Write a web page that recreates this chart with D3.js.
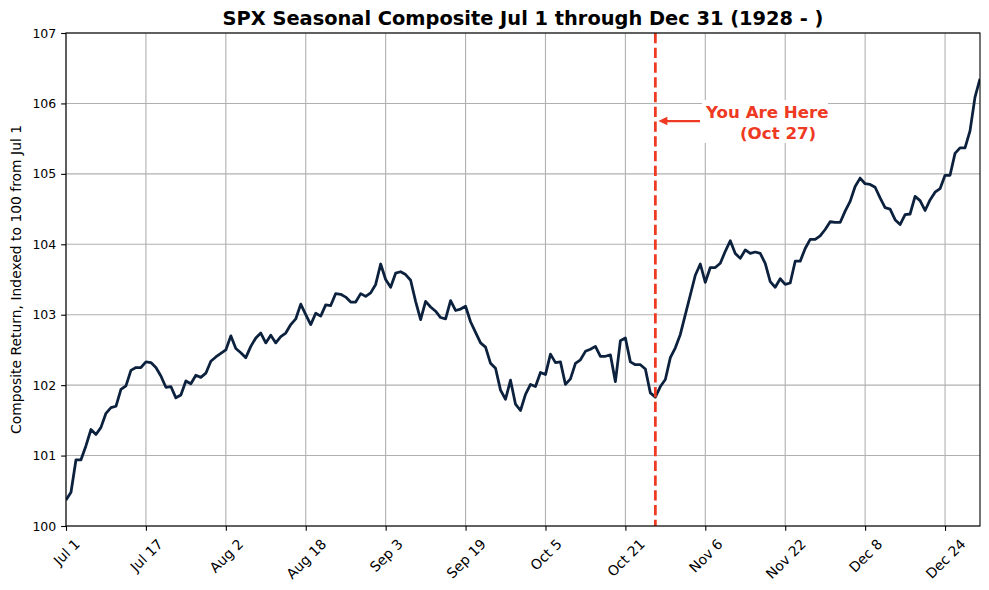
<!DOCTYPE html>
<html>
<head>
<meta charset="utf-8">
<script src="https://cdn.jsdelivr.net/npm/d3@7"></script>
<style>
  html, body { margin: 0; padding: 0; background: #fff; }
  svg { display: block; font-family: "DejaVu Sans", sans-serif; }
</style>
</head>
<body>
<svg id="chart" width="989" height="590"></svg>
<script>
// ---- data ----
const startDate = "2023-07-01";
const endDate = "2023-12-31";
const values = [
  100.37,100.48,100.94,100.94,101.14,101.37,101.30,101.40,101.60,101.68,
  101.70,101.94,101.99,102.21,102.25,102.25,102.33,102.32,102.25,102.13,
  101.97,101.98,101.82,101.86,102.06,102.02,102.14,102.11,102.17,102.34,
  102.40,102.45,102.50,102.70,102.52,102.46,102.39,102.55,102.67,102.74,
  102.60,102.71,102.60,102.69,102.74,102.86,102.94,103.15,103.00,102.86,
  103.02,102.98,103.14,103.13,103.30,103.29,103.25,103.18,103.18,103.30,
  103.26,103.31,103.43,103.72,103.50,103.39,103.59,103.61,103.57,103.49,
  103.19,102.93,103.19,103.11,103.05,102.96,102.94,103.20,103.06,103.08,
  103.12,102.90,102.75,102.60,102.54,102.31,102.24,101.93,101.80,102.07,
  101.73,101.64,101.87,102.01,101.98,102.18,102.15,102.44,102.32,102.33,
  102.01,102.09,102.31,102.36,102.48,102.51,102.55,102.41,102.41,102.43,
  102.05,102.63,102.67,102.33,102.29,102.29,102.23,101.89,101.83,101.98,
  102.08,102.39,102.53,102.72,103.00,103.28,103.56,103.72,103.46,103.67,
  103.67,103.73,103.90,104.05,103.87,103.80,103.92,103.87,103.89,103.87,
  103.73,103.47,103.39,103.51,103.43,103.45,103.76,103.76,103.94,104.07,
  104.07,104.12,104.21,104.32,104.31,104.31,104.47,104.61,104.82,104.94,
  104.86,104.85,104.81,104.66,104.52,104.50,104.35,104.28,104.42,104.43,
  104.68,104.62,104.48,104.63,104.74,104.79,104.98,104.98,105.29,105.37,
  105.37,105.61,106.09,106.35
];
const xTickDates = ["2023-07-01","2023-07-17","2023-08-02","2023-08-18","2023-09-03","2023-09-19",
                    "2023-10-05","2023-10-21","2023-11-06","2023-11-22","2023-12-08","2023-12-24"];
const xTickLabels = ["Jul 1","Jul 17","Aug 2","Aug 18","Sep 3","Sep 19",
                     "Oct 5","Oct 21","Nov 6","Nov 22","Dec 8","Dec 24"];
const yTicks = [100,101,102,103,104,105,106,107];
const markerDate = "2023-10-27";
const markerValue = 105.75;
const titleText = "SPX Seasonal Composite Jul 1 through Dec 31 (1928 - )";
const yLabelText = "Composite Return, Indexed to 100 from Jul 1";
const noteLines = ["You Are Here", "(Oct 27)"];

// ---- layout ----
const parse = d3.timeParse("%Y-%m-%d");
const W = 989, H = 590;
const m = {left: 66, right: 980, top: 33, bottom: 526};
const navy = "#0c213d", red = "#ee3a22", grid = "#b0b0b0";
const xTickFont = 13.9, yTickFont = 12.5;

const svg = d3.select("#chart");
svg.append("rect").attr("width", W).attr("height", H).attr("fill", "#fff");

const start = parse(startDate);
const data = values.map((v, i) => ({date: d3.timeDay.offset(start, i), value: v}));

const x = d3.scaleTime().domain([start, parse(endDate)]).range([m.left, m.right]);
const y = d3.scaleLinear().domain([100, 107]).range([m.bottom, m.top]);

const tickDates = xTickDates.map(parse);

// grid
const g = svg.append("g");
g.selectAll(".vg").data(tickDates).enter().append("line")
  .attr("x1", d => x(d)).attr("x2", d => x(d))
  .attr("y1", m.top).attr("y2", m.bottom)
  .attr("stroke", grid).attr("stroke-width", 1.1);
g.selectAll(".hg").data(yTicks).enter().append("line")
  .attr("x1", m.left).attr("x2", m.right)
  .attr("y1", d => y(d)).attr("y2", d => y(d))
  .attr("stroke", grid).attr("stroke-width", 1.1);

// line
const line = d3.line().x(d => x(d.date)).y(d => y(d.value));
svg.append("defs").append("clipPath").attr("id", "clip")
  .append("rect").attr("x", m.left).attr("y", m.top)
  .attr("width", m.right - m.left).attr("height", m.bottom - m.top);
svg.append("path").datum(data)
  .attr("d", line).attr("fill", "none")
  .attr("stroke", navy).attr("stroke-width", 2.78)
  .attr("stroke-linejoin", "round").attr("stroke-linecap", "butt")
  .attr("clip-path", "url(#clip)");

// marker dashed line
const mx = x(parse(markerDate));
svg.append("line")
  .attr("x1", mx).attr("x2", mx).attr("y1", m.top).attr("y2", m.bottom)
  .attr("stroke", red).attr("stroke-width", 2.78)
  .attr("stroke-dasharray", "10.3,4.45");

// annotation
const my = y(markerValue);
const ann = svg.append("g");
ann.append("rect").attr("x", 702).attr("y", 100).attr("width", 126).attr("height", 43)
  .attr("fill", "#fff");
ann.append("line").attr("x1", 700).attr("x2", mx + 11).attr("y1", my).attr("y2", my)
  .attr("stroke", red).attr("stroke-width", 2.2);
ann.append("path")
  .attr("d", `M${mx + 3},${my} L${mx + 12},${my - 4.2} L${mx + 12},${my + 4.2} Z`)
  .attr("fill", red);
ann.append("text").attr("x", 706).attr("y", 118)
  .attr("font-size", 16.67).attr("font-weight", "bold").attr("fill", red)
  .text(noteLines[0]);
ann.append("text").attr("x", 740).attr("y", 139)
  .attr("font-size", 16.67).attr("font-weight", "bold").attr("fill", red)
  .text(noteLines[1]);

// axes frame
svg.append("rect").attr("x", m.left).attr("y", m.top)
  .attr("width", m.right - m.left).attr("height", m.bottom - m.top)
  .attr("fill", "none").attr("stroke", "#000").attr("stroke-width", 1.1);

// y axis
const yAxis = d3.axisLeft(y).tickValues(yTicks).tickFormat(d3.format("d"))
  .tickSize(4.86).tickPadding(4.86);
const ya = svg.append("g").attr("transform", `translate(${m.left},0)`).call(yAxis);
ya.select(".domain").remove();
ya.selectAll("line").attr("stroke", "#000").attr("stroke-width", 1.1);
ya.selectAll("text").attr("font-size", yTickFont).attr("font-family", "DejaVu Sans").attr("fill", "#000");

// x axis
const xAxis = d3.axisBottom(x).tickValues(tickDates)
  .tickFormat((d, i) => xTickLabels[i]).tickSize(4.86).tickPadding(4.86);
const xa = svg.append("g").attr("transform", `translate(0,${m.bottom})`).call(xAxis);
xa.select(".domain").remove();
xa.selectAll("line").attr("stroke", "#000").attr("stroke-width", 1.1);
xa.selectAll("text")
  .attr("font-size", xTickFont).attr("font-family", "DejaVu Sans").attr("fill", "#000")
  .attr("text-anchor", "middle").attr("dy", null).attr("y", null)
  .attr("dominant-baseline", "central")
  .each(function() {
    const w = this.getComputedTextLength();
    const h = xTickFont * 1.17;
    const cy = 9.7 + (w + h) * 0.35355;
    d3.select(this).attr("transform", `translate(0,${cy}) rotate(-45)`);
  });

// title
svg.append("text").attr("x", (m.left + m.right) / 2).attr("y", 25)
  .attr("text-anchor", "middle").attr("font-size", 19.4).attr("font-weight", "bold")
  .attr("fill", "#000").text(titleText);

// y label
svg.append("text").attr("transform", `translate(21,${(m.top + m.bottom) / 2}) rotate(-90)`)
  .attr("text-anchor", "middle").attr("font-size", 13.9).attr("fill", "#000")
  .text(yLabelText);
</script>
</body>
</html>
